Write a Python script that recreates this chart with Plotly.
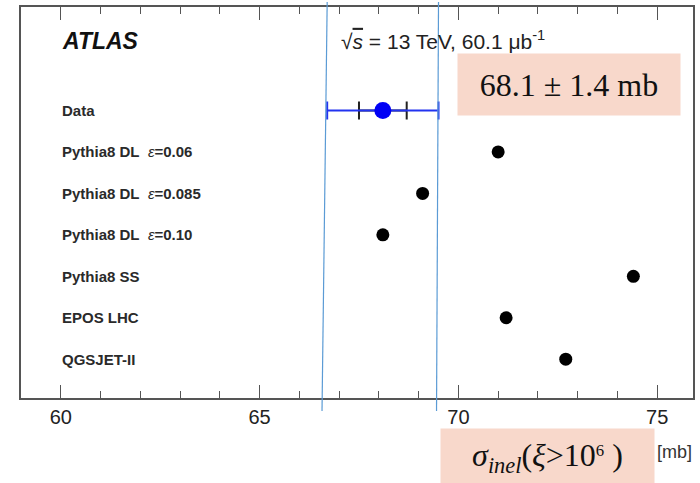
import plotly.graph_objects as go

# ---- data ----
labels = ["<b>Data</b>",
          "<b>Pythia8 DL</b>&nbsp;&nbsp;<i>ε</i><b>=0.06</b>",
          "<b>Pythia8 DL</b>&nbsp;&nbsp;<i>ε</i><b>=0.085</b>",
          "<b>Pythia8 DL</b>&nbsp;&nbsp;<i>ε</i><b>=0.10</b>",
          "<b>Pythia8 SS</b>",
          "<b>EPOS LHC</b>",
          "<b>QGSJET-II</b>"]
data_value = 68.1
data_err_inner = 0.6
data_err_total = 1.4
model_values = [71.0, 69.1, 68.1, 74.4, 71.2, 72.7]
x_ticks = [60, 65, 70, 75]

rows = list(range(len(labels)))
model_rows = rows[1:]

fig = go.Figure()

# inner (black) error bar
fig.add_trace(go.Scatter(
    x=[data_value], y=[0], mode="markers",
    marker=dict(size=1, color="rgba(0,0,0,0)"),
    error_x=dict(type="data", array=[data_err_inner], color="#222", thickness=2, width=9),
    showlegend=False, hoverinfo="skip"))
# total (blue) error bar + marker
fig.add_trace(go.Scatter(
    x=[data_value], y=[0], mode="markers",
    marker=dict(size=17, color="#0000f5"),
    error_x=dict(type="data", array=[data_err_total], color="#2233f0", thickness=2, width=9),
    showlegend=False))
# models
fig.add_trace(go.Scatter(
    x=model_values, y=model_rows, mode="markers",
    marker=dict(size=13, color="black"),
    showlegend=False))

annotations = []
for r, lab in zip(rows, labels):
    annotations.append(dict(x=0.058, xref="paper", y=r, yref="y", text=lab,
                            showarrow=False, xanchor="left", yanchor="middle",
                            font=dict(family="Liberation Sans", size=15, color="#2a2a2a")))
annotations.append(dict(x=0.058, xref="paper", y=-1.68, yref="y", text="<b><i>ATLAS</i></b>",
                        showarrow=False, xanchor="left", yanchor="middle",
                        font=dict(family="Liberation Sans", size=23, color="#111")))
annotations.append(dict(x=67.0, xref="x", y=-1.7, yref="y",
                        text="√<span style='text-decoration:overline'><i>s</i></span> = 13 TeV, 60.1 μb<sup>-1</sup>",
                        showarrow=False, xanchor="left", yanchor="middle",
                        font=dict(family="Liberation Sans", size=21, color="#222")))
# result box
annotations.append(dict(x=0.816, xref="paper", y=0.802, yref="paper",
                        text="68.1 ± 1.4 mb", showarrow=False,
                        width=220, height=59, bgcolor="#f8d8cb",
                        xanchor="center", yanchor="middle",
                        font=dict(family="Liberation Serif", size=32, color="#111")))
# sigma label box
annotations.append(dict(x=0.7836, xref="paper", y=-0.076, yref="paper",
                        text="<i>σ</i><sub><i>inel</i></sub>(<i>ξ</i>>10<span style='font-size:24px'><sup>6</sup></span>&nbsp;)",
                        showarrow=False, width=211, height=55, bgcolor="#f8d8cb",
                        xanchor="center", yanchor="top",
                        font=dict(family="Liberation Serif", size=32, color="#111")))
annotations.append(dict(x=0.972, xref="paper", y=-0.137, yref="paper", text="[mb]",
                        showarrow=False, xanchor="center", yanchor="middle",
                        font=dict(family="Liberation Sans", size=18, color="#333")))

# hand-drawn light-blue guide lines at data ± total error
tilt_left = -0.13
tilt_right = -0.05
shapes = [
    dict(type="line", xref="x", yref="paper",
         x0=data_value - data_err_total, x1=data_value - data_err_total + tilt_left,
         y0=1.013, y1=-0.033, line=dict(color="#5b9bd5", width=1.2)),
    dict(type="line", xref="x", yref="paper",
         x0=data_value + data_err_total, x1=data_value + data_err_total + tilt_right,
         y0=1.013, y1=-0.033, line=dict(color="#5b9bd5", width=1.2)),
]

fig.update_layout(
    width=700, height=483,
    margin=dict(l=21, r=6, t=5, b=85),
    paper_bgcolor="white", plot_bgcolor="white",
    annotations=annotations, shapes=shapes,
    xaxis=dict(range=[59.0, 75.9], tickvals=x_ticks, ticks="inside", ticklen=13,
               tickwidth=1.3, tickcolor="#555", showline=True, linecolor="#555",
               linewidth=1.5, mirror="ticks", showgrid=False, zeroline=False,
               minor=dict(dtick=1, ticks="inside", ticklen=7, tickcolor="#555", tickwidth=1.3),
               tickfont=dict(family="Liberation Sans", size=20, color="#222")),
    yaxis=dict(range=[6.936, -2.496], showticklabels=False, ticks="", showgrid=False,
               zeroline=False, showline=True, linecolor="#555", linewidth=1.5, mirror=True),
)

fig.write_html("out.html", config={"displayModeBar": False},
               post_script="document.body.style.margin='0';document.body.style.overflow='hidden';")
